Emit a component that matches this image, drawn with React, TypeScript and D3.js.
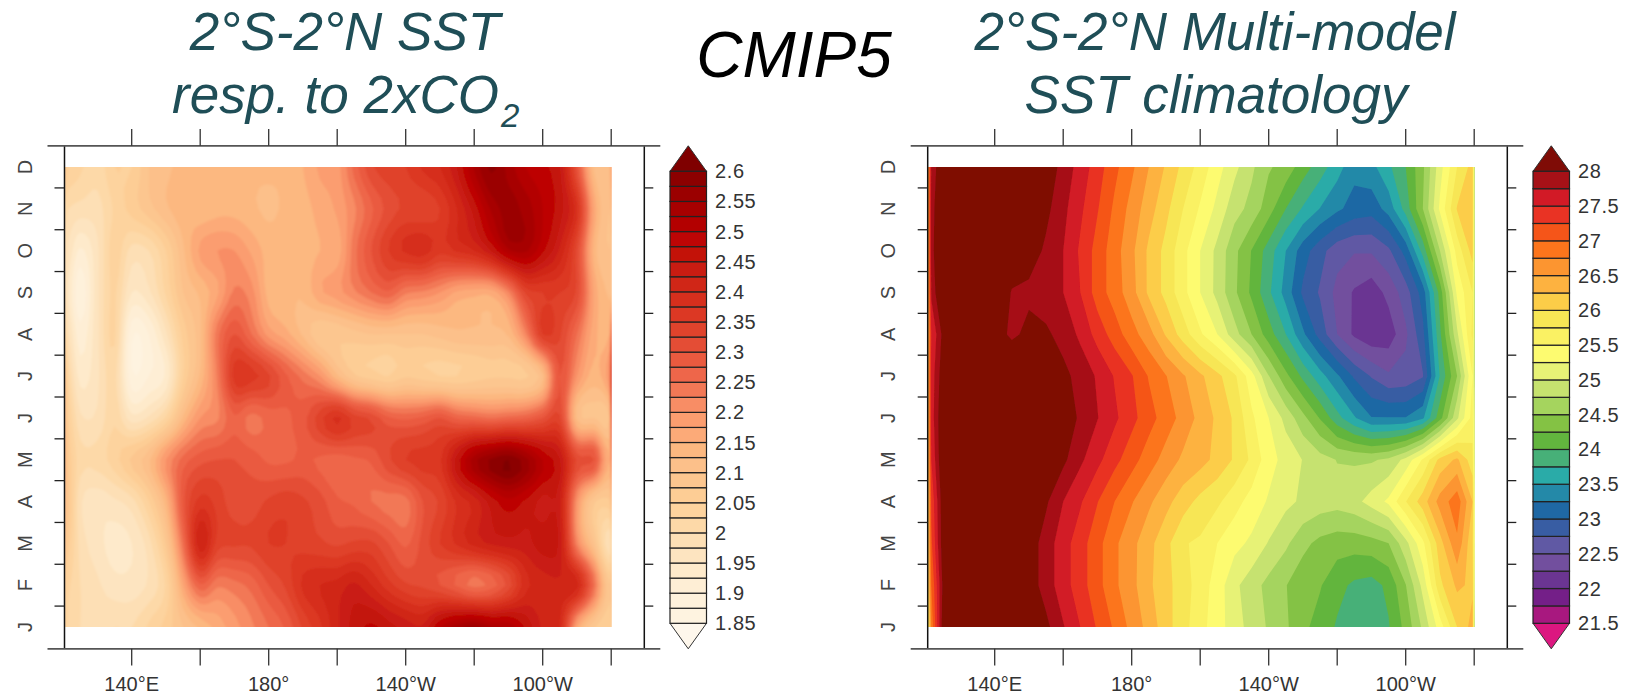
import React from "react";
import * as d3 from "d3";

const FONT = "'Liberation Sans', Arial, sans-serif";
const TITLE_COLOR = "#1f4e57";

const MONTH_LABELS = ["J", "F", "M", "A", "M", "J", "J", "A", "S", "O", "N", "D"];
const LON_TICKS = [140, 160, 180, 200, 220, 240, 260, 280];
const LON_TICK_LABELS = ["140°E", "", "180°", "", "140°W", "", "100°W", ""];
const LONS = [120.4, 121.5, 125, 130, 135, 140, 145, 150, 155, 160, 165, 170, 175, 180, 185, 190, 195, 200, 205, 210, 215, 220, 225, 230, 235, 240, 245, 250, 255, 260, 265, 270, 275, 279.5, 280.2];

// SST response to 2xCO2, by month, along LONS
const respJan = [2.04,2.02,2.0,1.99,2.0,2.0,2.03,2.06,2.1,2.13,2.16,2.19,2.22,2.25,2.28,2.33,2.37,2.42,2.46,2.48,2.46,2.44,2.43,2.5,2.54,2.56,2.53,2.52,2.47,2.42,2.4,2.17,2.08,2.05,2.08];
const respFeb = [2.06,2.03,2.0,1.98,1.96,1.96,1.98,2.03,2.17,2.27,2.23,2.24,2.26,2.3,2.33,2.38,2.4,2.41,2.43,2.4,2.36,2.33,2.32,2.3,2.27,2.24,2.26,2.31,2.39,2.41,2.42,2.41,2.25,2.08,2.12];
const respMar = [2.1,2.06,1.99,1.96,1.94,1.95,1.99,2.08,2.25,2.42,2.34,2.33,2.33,2.35,2.35,2.34,2.33,2.32,2.33,2.33,2.3,2.27,2.31,2.35,2.38,2.41,2.43,2.44,2.44,2.46,2.44,2.22,2.1,1.98,2.05];
const respApr = [2.12,2.08,1.98,1.96,1.97,1.99,2.05,2.14,2.29,2.36,2.34,2.31,2.31,2.33,2.34,2.33,2.31,2.28,2.27,2.25,2.24,2.24,2.3,2.33,2.38,2.41,2.46,2.49,2.47,2.44,2.43,2.2,2.08,2.07,2.15];
const respMay = [2.14,2.07,2.01,2.01,2.04,2.08,2.12,2.2,2.26,2.29,2.3,2.3,2.29,2.27,2.27,2.28,2.27,2.26,2.27,2.28,2.32,2.35,2.36,2.37,2.46,2.54,2.58,2.6,2.56,2.5,2.45,2.32,2.3,2.15,2.25];
const respJun = [2.12,2.05,1.98,1.98,2.02,1.96,1.98,2.03,2.13,2.2,2.22,2.27,2.24,2.26,2.27,2.29,2.34,2.38,2.34,2.32,2.28,2.27,2.28,2.3,2.27,2.26,2.25,2.26,2.27,2.3,2.33,2.12,2.1,2.1,2.35];
const respJul = [2.1,2.02,1.94,1.97,2.01,1.88,1.9,1.93,2.05,2.13,2.23,2.36,2.36,2.33,2.28,2.24,2.2,2.13,2.08,2.06,2.05,2.07,2.06,2.05,2.05,2.06,2.07,2.07,2.07,2.12,2.3,2.2,2.14,2.2,2.42];
const respAug = [2.03,1.98,1.91,1.97,2.03,1.88,1.9,1.97,2.06,2.12,2.24,2.3,2.25,2.19,2.16,2.12,2.08,2.08,2.09,2.1,2.1,2.1,2.1,2.11,2.12,2.12,2.12,2.13,2.22,2.35,2.33,2.25,2.16,2.15,2.3];
const respSep = [2.0,1.95,1.88,1.97,2.03,1.95,1.97,2.03,2.1,2.13,2.17,2.23,2.21,2.14,2.13,2.13,2.17,2.19,2.22,2.25,2.27,2.23,2.22,2.2,2.17,2.16,2.16,2.22,2.33,2.35,2.35,2.32,2.17,2.12,2.12];
const respOct = [2.0,1.97,1.92,1.97,2.04,1.99,2.0,2.05,2.12,2.18,2.2,2.2,2.17,2.14,2.14,2.14,2.15,2.16,2.24,2.3,2.35,2.38,2.39,2.36,2.38,2.4,2.45,2.52,2.53,2.48,2.42,2.32,2.14,2.1,2.12];
const respNov = [2.02,2.0,1.99,1.99,2.03,2.06,2.09,2.12,2.14,2.13,2.14,2.14,2.13,2.12,2.13,2.14,2.16,2.18,2.22,2.27,2.31,2.33,2.33,2.35,2.4,2.46,2.53,2.56,2.54,2.5,2.46,2.38,2.17,2.1,2.15];
const respDec = [2.08,2.05,2.03,2.01,2.05,2.05,2.1,2.12,2.13,2.13,2.15,2.14,2.13,2.13,2.13,2.15,2.18,2.19,2.26,2.32,2.34,2.35,2.38,2.4,2.45,2.53,2.58,2.54,2.5,2.48,2.45,2.3,2.12,2.12,2.2];

// Multi-model SST climatology, by month, along LONS
const climJan = [25.6,26.8,28.2,28.5,28.6,28.5,28.4,28.2,28.07,27.77,27.5,27.22,26.96,26.67,26.41,26.1,25.84,25.59,25.36,25.12,24.9,24.72,24.54,24.31,24.15,23.97,23.87,23.86,23.98,24.33,24.8,25.37,26.0,26.35,24.6];
const climFeb = [25.9,27.0,28.1,28.5,28.6,28.5,28.3,28.15,27.88,27.61,27.36,27.09,26.8,26.58,26.3,26.08,25.87,25.63,25.39,25.06,24.86,24.67,24.51,24.34,24.27,24.08,23.95,23.9,24.06,24.49,25.08,25.94,26.3,26.2,24.9];
const climMar = [26.0,27.2,28.2,28.6,28.7,28.6,28.3,28.15,27.88,27.61,27.36,27.09,26.8,26.58,26.33,26.08,25.77,25.71,25.5,25.33,25.2,24.98,24.8,24.57,24.43,24.36,24.36,24.4,24.5,24.92,25.44,26.15,26.7,26.05,25.0];
const climApr = [26.0,27.3,28.2,28.6,28.8,28.8,28.6,28.3,28.04,27.75,27.53,27.26,27.0,26.77,26.55,26.33,26.12,25.92,25.8,25.6,25.4,25.22,25.06,24.96,24.88,24.85,24.92,25.1,25.3,25.74,26.13,26.6,26.9,26.25,25.0];
const climMay = [26.1,27.5,28.3,28.7,28.8,28.8,28.7,28.5,28.3,28.06,27.8,27.57,27.33,27.1,26.87,26.65,26.45,26.35,26.17,25.97,25.7,25.35,25.16,24.99,24.85,24.74,24.72,24.72,24.8,25.08,25.53,26.08,26.3,25.85,24.9];
const climJun = [26.1,27.6,28.3,28.6,28.7,28.7,28.6,28.5,28.35,28.2,27.95,27.76,27.55,27.33,27.1,26.88,26.66,26.42,26.2,25.96,25.55,25.25,24.92,24.58,24.23,23.84,23.53,23.26,23.26,23.26,23.46,24.15,24.95,25.6,24.9];
const climJul = [26.2,27.6,28.2,28.5,28.6,28.5,28.5,28.4,28.3,28.08,27.9,27.72,27.48,27.27,26.98,26.76,26.53,26.3,26.07,25.8,25.35,24.76,24.32,23.94,23.6,23.29,22.96,22.73,22.54,22.58,22.73,23.77,24.5,25.5,24.7];
const climAug = [26.2,27.5,28.1,28.5,28.5,28.2,27.92,28.1,28.05,27.9,27.7,27.4,27.13,26.85,26.6,26.22,25.88,25.54,25.25,24.85,24.5,24.12,23.75,23.3,22.9,22.5,22.2,22.05,22.1,22.45,22.93,23.95,24.95,25.8,24.6];
const climSep = [26.3,27.8,28.4,28.7,28.8,28.6,27.96,27.93,27.85,27.75,27.5,27.13,26.88,26.6,26.2,25.92,25.58,25.25,24.92,24.55,24.2,23.8,23.4,22.95,22.72,22.42,22.22,22.1,22.33,22.63,23.12,24.1,25.3,25.75,24.6];
const climOct = [26.3,27.9,28.4,28.7,28.8,28.7,28.4,28.15,27.95,27.75,27.46,27.15,26.86,26.56,26.2,25.92,25.58,25.25,24.93,24.57,24.24,23.88,23.5,23.12,22.84,22.6,22.52,22.53,22.7,23.1,23.85,24.75,25.6,26.1,24.6];
const climNov = [26.3,27.9,28.3,28.6,28.7,28.7,28.6,28.4,28.07,27.82,27.55,27.27,26.95,26.66,26.36,26.07,25.75,25.47,25.18,24.85,24.67,24.36,24.0,23.72,23.49,23.3,23.15,23.1,23.35,23.85,24.5,25.3,26.02,26.15,24.6];
const climDec = [26.4,27.8,28.3,28.5,28.6,28.6,28.6,28.5,28.2,27.9,27.65,27.37,27.07,26.8,26.5,26.22,25.93,25.65,25.35,25.07,24.8,24.53,24.4,24.12,23.87,23.6,23.33,23.42,23.7,24.0,24.45,25.15,25.75,26.1,24.6];

const respRows = [respJan, respFeb, respMar, respApr, respMay, respJun, respJul, respAug, respSep, respOct, respNov, respDec];
const climRows = [climJan, climFeb, climMar, climApr, climMay, climJun, climJul, climAug, climSep, climOct, climNov, climDec];

// Colour bands, lowest (lower arrow) to highest (upper arrow)
const respColors = ["#fef7ec","#fef3e0","#fef1db","#feeed5","#feeacb","#fde4c0","#fddfb5","#fdd9a8","#fdd39e","#fdcd95","#fcc68f","#fcc08a","#fcb880","#fcaa78","#fb9d6f","#f88d65","#f27856","#ee664a","#ea5a3f","#e44d35","#e0432c","#dc3824","#d62f1d","#d02617","#c91c12","#c31208","#bd0505","#b30000","#a70000","#9b0000","#8c0000","#7f0000"];
const climColors = ["#dc1780","#a8187f","#741f88","#6b3592","#724f9e","#6059a4","#385da3","#1f68a4","#2489a8","#2aaba8","#47b078","#62b53e","#84c244","#a5d45e","#c6e26f","#e7f276","#fdfb70","#faf163","#f7e655","#fccd48","#fdb240","#fc9530","#fc751c","#f55519","#e93324","#d21a26","#a61117","#7f0c06"];

const respLevels = d3.range(31).map((i) => 1.85 + i * 0.025);
const climLevels = d3.range(27).map((i) => 21.5 + i * 0.25);
const respLegendLabels = ["1.85","1.9","1.95","2","2.05","2.1","2.15","2.2","2.25","2.3","2.35","2.4","2.45","2.5","2.55","2.6"];
const climLegendLabels = ["21.5","22","22.5","23","23.5","24","24.5","25","25.5","26","26.5","27","27.5","28"];

const Y_TOP = 145.8;
const Y_BOTTOM = 648.8;
const DATA_TOP = 167;
const DATA_BOTTOM = 627;
const LEG_TOP = 171.3;
const LEG_BOTTOM = 623.3;

// Cubic resampling of a row of grid values, used only to round the drawn contours
function cubic(a: number, b: number, c: number, d: number, t: number) {
  return b + 0.5 * t * (c - a + t * (2 * a - 5 * b + 4 * c - d + t * (3 * (b - c) + d - a)));
}
function resample(line: number[], k: number) {
  const n = line.length;
  const out: number[] = [];
  for (let i = 0; i < (n - 1) * k + 1; i++) {
    const p = i / k;
    const j = Math.min(Math.floor(p), n - 2);
    const t = p - j;
    out.push(cubic(line[Math.max(j - 1, 0)], line[j], line[j + 1], line[Math.min(j + 2, n - 1)], t));
  }
  return out;
}
function refine(rows: number[][], k: number) {
  if (k === 1) return rows;
  const wide = rows.map((r) => resample(r, k));
  const cols = wide[0].map((_, c) => resample(wide.map((r) => r[c]), k));
  return cols[0].map((_, r) => cols.map((col) => col[r]));
}

type PanelProps = {
  id: string;
  frameLeft: number;
  frameRight: number;
  tick140: number;
  rows: number[][];
  levels: number[];
  colors: string[];
  legendLabels: string[];
  legendX: number;
  refineBy: number;
  blur: number;
};

function Panel({ id, frameLeft, frameRight, tick140, rows, levels, colors, legendLabels, legendX, refineBy, blur }: PanelProps) {
  const lonToX = d3.scaleLinear().domain([140, 280]).range([tick140, tick140 + 140 * 3.425]);
  const monthToY = d3.scaleLinear().domain([0, 11]).range([DATA_BOTTOM, DATA_TOP]);
  const indexToLon = d3.scaleLinear<number>().domain(LONS.map((_, i) => i)).range(LONS);
  const fine = refine(rows, refineBy);
  const nx = fine[0].length;
  const ny = fine.length;
  const contours = d3.contours().size([nx, ny]).thresholds(levels)(fine.flat());
  const path = d3.geoPath(
    d3.geoTransform({
      point(x: number, y: number) {
        (this as any).stream.point(lonToX(indexToLon((x - 0.5) / refineBy)), monthToY((y - 0.5) / refineBy));
      },
    })
  );
  const dataLeft = lonToX(LONS[0]);
  const dataRight = lonToX(LONS[LONS.length - 1]);
  const monthEdges = d3.range(1, 12).map((i) => monthToY(i - 0.5));
  const legY = d3.scaleLinear().domain([levels[0], levels[levels.length - 1]]).range([LEG_BOTTOM, LEG_TOP]);
  const legW = 36.5;
  const midX = legendX + legW / 2;
  const legendLabelLevels = levels.filter((_, i) => i % 2 === 0);

  return (
    <g>
      <defs>
        <clipPath id={`clip-${id}`}>
          <rect x={dataLeft} y={DATA_TOP} width={dataRight - dataLeft} height={DATA_BOTTOM - DATA_TOP} />
        </clipPath>
        <filter id={`soft-${id}`} x="-2%" y="-2%" width="104%" height="104%">
          <feGaussianBlur stdDeviation={blur} />
        </filter>
      </defs>
      <g clipPath={`url(#clip-${id})`}>
        <g filter={`url(#soft-${id})`}>
          <rect x={dataLeft - 3} y={DATA_TOP - 3} width={dataRight - dataLeft + 6} height={DATA_BOTTOM - DATA_TOP + 6} fill={colors[0]} />
          {contours.map((c, i) => (
            <path key={i} d={path(c as any) || ""} fill={colors[i + 1]} />
          ))}
        </g>
      </g>

      {/* frame */}
      <line x1={frameLeft} x2={frameLeft} y1={Y_TOP} y2={Y_BOTTOM} stroke="#111" strokeWidth={1.5} />
      <line x1={frameRight} x2={frameRight} y1={Y_TOP} y2={Y_BOTTOM} stroke="#111" strokeWidth={1.5} />
      <line x1={frameLeft - 17} x2={frameRight + 16} y1={Y_TOP} y2={Y_TOP} stroke="#555" strokeWidth={1.8} />
      <line x1={frameLeft - 17} x2={frameRight + 16} y1={Y_BOTTOM} y2={Y_BOTTOM} stroke="#555" strokeWidth={1.8} />

      {LON_TICKS.map((lon, i) => (
        <g key={lon}>
          <line x1={lonToX(lon)} x2={lonToX(lon)} y1={Y_TOP} y2={129} stroke="#333" strokeWidth={1.3} />
          <line x1={lonToX(lon)} x2={lonToX(lon)} y1={Y_BOTTOM} y2={665.5} stroke="#333" strokeWidth={1.3} />
          {LON_TICK_LABELS[i] && (
            <text x={lonToX(lon)} y={690.5} textAnchor="middle" fontSize={20} fontFamily={FONT} fill="#333">
              {LON_TICK_LABELS[i]}
            </text>
          )}
        </g>
      ))}
      {monthEdges.map((y, i) => (
        <g key={i}>
          <line x1={frameLeft - 10} x2={frameLeft} y1={y} y2={y} stroke="#222" strokeWidth={1.3} />
          <line x1={frameRight} x2={frameRight + 9} y1={y} y2={y} stroke="#222" strokeWidth={1.3} />
        </g>
      ))}
      {MONTH_LABELS.map((m, i) => (
        <text
          key={i}
          transform={`translate(${frameLeft - 33},${monthToY(i)}) rotate(-90)`}
          textAnchor="middle"
          fontSize={20}
          fontFamily={FONT}
          fill="#444"
        >
          {m}
        </text>
      ))}

      {/* colour bar */}
      <path d={`M${legendX},${LEG_TOP} L${midX},${Y_TOP} L${legendX + legW},${LEG_TOP} Z`} fill={colors[colors.length - 1]} stroke="#333" strokeWidth={1} />
      <path d={`M${legendX},${LEG_BOTTOM} L${midX},${Y_BOTTOM} L${legendX + legW},${LEG_BOTTOM} Z`} fill={colors[0]} stroke="#333" strokeWidth={1} />
      {levels.slice(0, -1).map((lev, i) => (
        <rect
          key={i}
          x={legendX}
          y={legY(levels[i + 1])}
          width={legW}
          height={legY(lev) - legY(levels[i + 1])}
          fill={colors[i + 1]}
          stroke="#222"
          strokeWidth={1.2}
        />
      ))}
      {legendLabelLevels.map((lev, i) => (
        <text
          key={i}
          x={legendX + legW + 8.5}
          y={legY(lev)}
          dy="0.35em"
          fontSize={20}
          letterSpacing={0.6}
          fontFamily={FONT}
          fill="#333"
        >
          {legendLabels[i]}
        </text>
      ))}
    </g>
  );
}

export default function App() {
  return (
    <svg
      width={1629}
      height={695}
      viewBox="0 0 1629 695"
      style={{ position: "absolute", left: 0, top: 0, display: "block", background: "#fff" }}
    >
      <Panel id="resp" frameLeft={64.5} frameRight={644.3} tick140={131.7} rows={respRows} levels={respLevels} colors={respColors} legendLabels={respLegendLabels} legendX={670} refineBy={4} blur={0.8} />
      <Panel id="clim" frameLeft={927.7} frameRight={1507.3} tick140={994.7} rows={climRows} levels={climLevels} colors={climColors} legendLabels={climLegendLabels} legendX={1533} refineBy={1} blur={0.5} />

      <g fontFamily={FONT} fontStyle="italic">
        <text x={345} y={50} textAnchor="middle" fontSize={53} fill={TITLE_COLOR}>2°S-2°N SST</text>
        <text x={172} y={113} fontSize={53} fill={TITLE_COLOR}>resp. to 2xCO</text>
        <text x={501} y={127} fontSize={33} fill={TITLE_COLOR}>2</text>
        <text x={794} y={77} textAnchor="middle" fontSize={64} fill="#000">CMIP5</text>
        <text x={1215} y={50} textAnchor="middle" fontSize={53} fill={TITLE_COLOR}>2°S-2°N Multi-model</text>
        <text x={1216} y={113} textAnchor="middle" fontSize={53} fill={TITLE_COLOR}>SST climatology</text>
      </g>
    </svg>
  );
}
